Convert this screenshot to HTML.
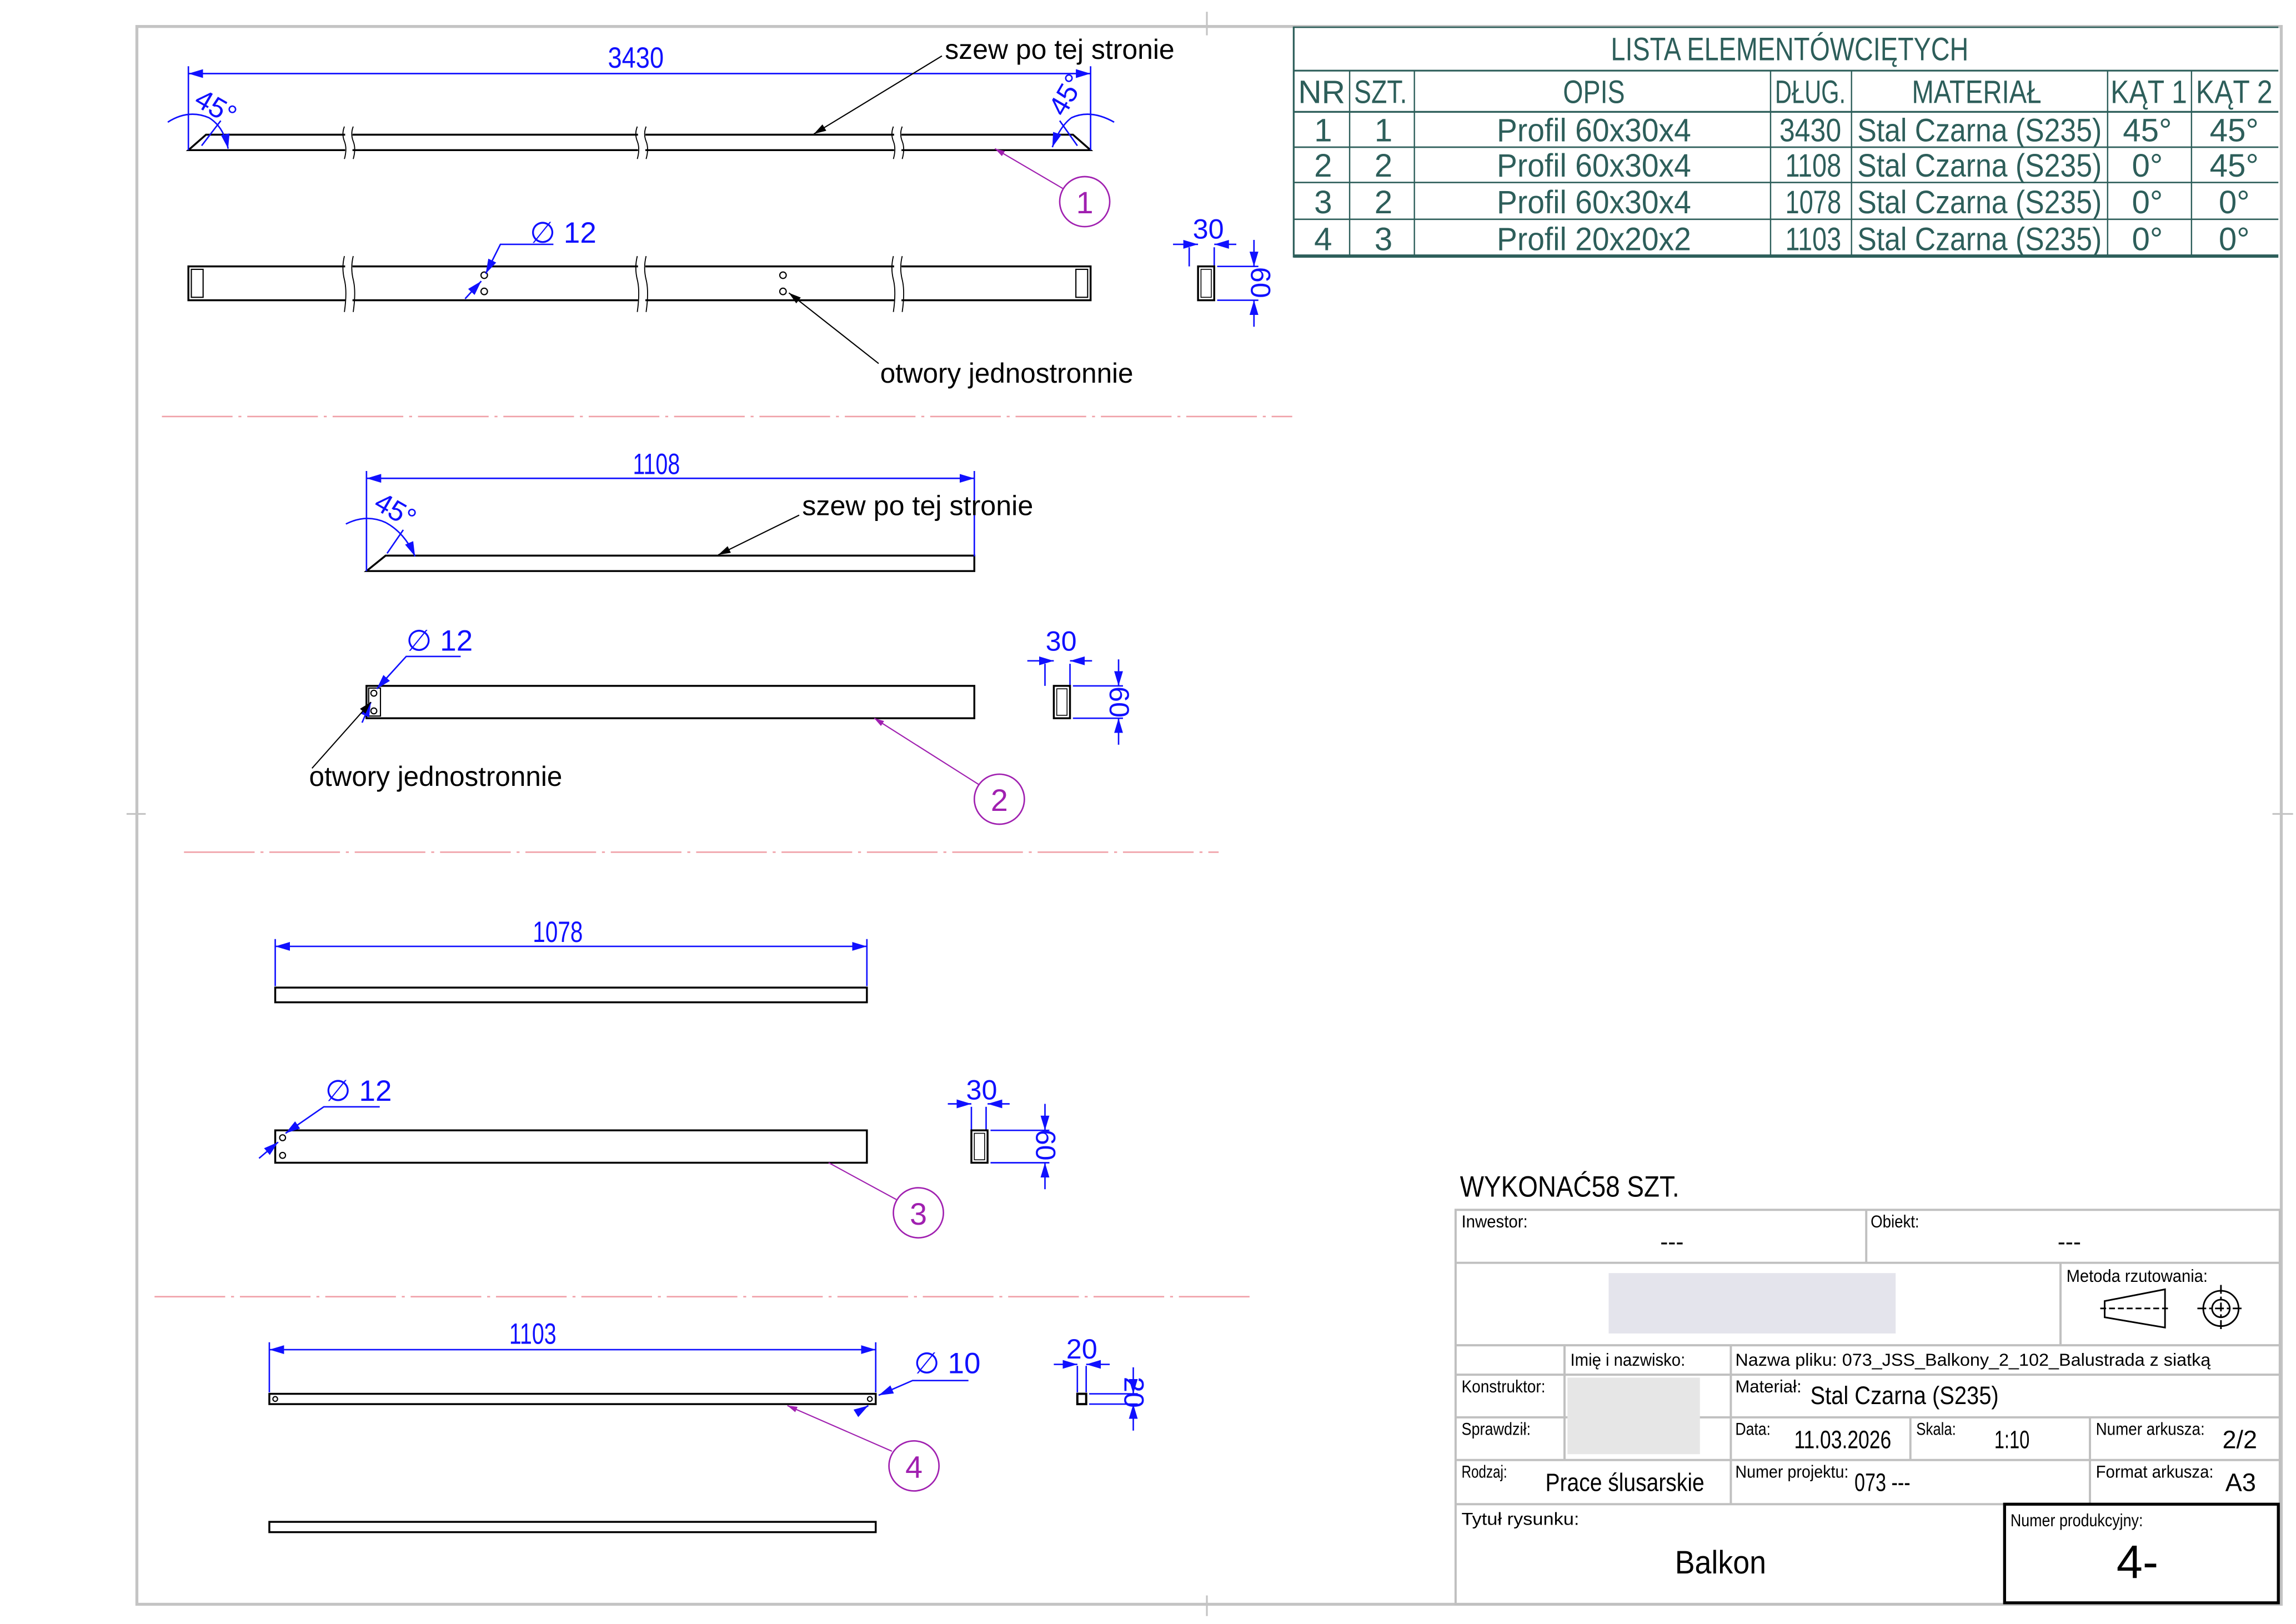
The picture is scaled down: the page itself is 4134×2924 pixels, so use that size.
<!DOCTYPE html>
<html><head><meta charset="utf-8"><style>
html,body{margin:0;padding:0;background:#fff;width:4134px;height:2924px;overflow:hidden}
svg{display:block}
text{font-family:"Liberation Sans",sans-serif}
</style></head><body>
<svg width="4134" height="2924" viewBox="0 0 1560 1103.4" preserveAspectRatio="none" xmlns="http://www.w3.org/2000/svg">
<defs>
<marker id="ab" viewBox="0 0 10 6" refX="10" refY="3" markerWidth="10" markerHeight="6" markerUnits="userSpaceOnUse" orient="auto-start-reverse"><path d="M0,0 L10,3 L0,6z" fill="#1010ff"/></marker>
<marker id="ak" viewBox="0 0 10 6" refX="10" refY="3" markerWidth="10" markerHeight="5" markerUnits="userSpaceOnUse" orient="auto"><path d="M0,0 L10,3 L0,6z" fill="#000"/></marker>
<marker id="ap" viewBox="0 0 10 6" refX="10" refY="3" markerWidth="9" markerHeight="4" markerUnits="userSpaceOnUse" orient="auto"><path d="M0,0 L10,3 L0,6z" fill="#a020b0"/></marker>
</defs>
<rect width="1560" height="1104" fill="#fff"/>
<!-- frame -->
<rect x="93" y="18" width="1457" height="1072" fill="none" stroke="#c4c4c4" stroke-width="2"/>
<g stroke="#c4c4c4" stroke-width="1.2">
<line x1="820" y1="8" x2="820" y2="24"/><line x1="820" y1="1084" x2="820" y2="1098"/>
<line x1="86" y1="553" x2="99" y2="553"/><line x1="1544" y1="553" x2="1558" y2="553"/>
</g>

<!-- separators -->
<g stroke="#f0a0a8" stroke-width="1" stroke-dasharray="48,4,2,4">
<line x1="110" y1="283" x2="878" y2="283"/>
<line x1="125" y1="579" x2="828" y2="579"/>
<line x1="105" y1="881" x2="849" y2="881"/>
</g>

<!-- PART 1 top -->
<g stroke="#000" stroke-width="1.3" fill="none">
<path d="M140,91.5 L729,91.5 L741,102 L128,102 Z"/>
</g>
<g stroke="#fff" stroke-width="5">
<line x1="237" y1="86" x2="237" y2="108"/><line x1="436" y1="86" x2="436" y2="108"/><line x1="610" y1="86" x2="610" y2="108"/>
</g>
<g stroke="#000" stroke-width="0.7" fill="none">
<path d="M234,86 q-2,5 0,10 q2,5 0,12"/><path d="M240,86 q-2,5 0,10 q2,5 0,12"/>
<path d="M433,86 q-2,5 0,10 q2,5 0,12"/><path d="M439,86 q-2,5 0,10 q2,5 0,12"/>
<path d="M607,86 q-2,5 0,10 q2,5 0,12"/><path d="M613,86 q-2,5 0,10 q2,5 0,12"/>
</g>
<g stroke="#1010ff" stroke-width="1" fill="none">
<line x1="128" y1="45" x2="128" y2="102"/><line x1="741" y1="45" x2="741" y2="102"/>
<line x1="128" y1="50" x2="741" y2="50" marker-start="url(#ab)" marker-end="url(#ab)"/>
<path d="M114,83 Q128,74 142,80 Q152,86 155,101" marker-end="url(#ab)"/>
<path d="M757,83 Q741,74 728,80 Q720,86 715,100" marker-end="url(#ab)"/>
<line x1="137" y1="99" x2="150" y2="82"/><line x1="732" y1="99" x2="720" y2="82"/>
</g>
<text x="432" y="46" font-size="20" fill="#1010ff" text-anchor="middle" textLength="38" lengthAdjust="spacingAndGlyphs">3430</text>
<text x="131" y="71" font-size="19" fill="#1010ff" transform="rotate(30 131 71)">45°</text>
<text x="723" y="80" font-size="19" fill="#1010ff" transform="rotate(-60 723 80)">45°</text>
<text x="642" y="40" font-size="19" fill="#000" textLength="156" lengthAdjust="spacingAndGlyphs">szew po tej  stronie</text>
<line x1="640" y1="38" x2="553" y2="91" stroke="#000" stroke-width="0.8" marker-end="url(#ak)"/>
<circle cx="737" cy="137" r="17" fill="none" stroke="#a020b0" stroke-width="1"/>
<text x="737" y="145" font-size="21" fill="#a020b0" text-anchor="middle">1</text>
<line x1="722" y1="128" x2="676" y2="101" stroke="#a020b0" stroke-width="0.8" marker-end="url(#ap)"/>

<!-- PART 1 front -->
<g stroke="#000" stroke-width="1.3" fill="none">
<rect x="128" y="181" width="613" height="23"/>
</g>
<g stroke="#000" stroke-width="0.8" fill="none">
<rect x="130" y="183" width="8" height="19"/><rect x="731" y="183" width="8" height="19"/>
<circle cx="329" cy="187" r="2.2"/><circle cx="329" cy="198" r="2.2"/>
<circle cx="532" cy="187" r="2.2"/><circle cx="532" cy="198" r="2.2"/>
</g>
<g stroke="#fff" stroke-width="5">
<line x1="237" y1="176" x2="237" y2="210"/><line x1="436" y1="176" x2="436" y2="210"/><line x1="610" y1="176" x2="610" y2="210"/>
</g>
<g stroke="#000" stroke-width="0.7" fill="none">
<path d="M234,174 q-2,8 0,16 q2,8 0,22"/><path d="M240,174 q-2,8 0,16 q2,8 0,22"/>
<path d="M433,174 q-2,8 0,16 q2,8 0,22"/><path d="M439,174 q-2,8 0,16 q2,8 0,22"/>
<path d="M607,174 q-2,8 0,16 q2,8 0,22"/><path d="M613,174 q-2,8 0,16 q2,8 0,22"/>
</g>
<g stroke="#1010ff" stroke-width="1" fill="none">
<polyline points="376,166 340,166 330,186" marker-end="url(#ab)"/>
<line x1="316" y1="203" x2="327" y2="191" marker-end="url(#ab)"/>
<line x1="808" y1="168" x2="808" y2="181"/><line x1="825" y1="168" x2="825" y2="181"/>
<line x1="797" y1="166" x2="814" y2="166" marker-end="url(#ab)"/><line x1="840" y1="166" x2="825" y2="166" marker-end="url(#ab)"/>
<line x1="827" y1="181" x2="855" y2="181"/><line x1="827" y1="204" x2="855" y2="204"/>
<line x1="852" y1="163" x2="852" y2="181" marker-end="url(#ab)"/><line x1="852" y1="222" x2="852" y2="204" marker-end="url(#ab)"/>
</g>
<rect x="814" y="181" width="11" height="23" fill="none" stroke="#000" stroke-width="1.3"/>
<rect x="816" y="183" width="7" height="19" fill="none" stroke="#000" stroke-width="0.6"/>
<text x="360" y="165" font-size="20" fill="#1010ff">∅ 12</text>
<text x="821" y="162" font-size="19" fill="#1010ff" text-anchor="middle">30</text>
<text x="850" y="192" font-size="19" fill="#1010ff" text-anchor="middle" transform="rotate(90 850 192)">60</text>
<text x="598" y="260" font-size="19" fill="#000" textLength="172" lengthAdjust="spacingAndGlyphs">otwory  jednostronnie</text>
<line x1="597" y1="247" x2="536" y2="199" stroke="#000" stroke-width="0.8" marker-end="url(#ak)"/>

<!-- PART 2 -->
<path d="M262,377.5 L662,377.5 L662,388 L249,388 Z" fill="none" stroke="#000" stroke-width="1.3"/>
<g stroke="#1010ff" stroke-width="1" fill="none">
<line x1="249" y1="320" x2="249" y2="388"/><line x1="662" y1="320" x2="662" y2="378"/>
<line x1="249" y1="325" x2="662" y2="325" marker-start="url(#ab)" marker-end="url(#ab)"/>
<path d="M235,356 Q249,349 262,355 Q275,362 282,378" marker-end="url(#ab)"/>
<line x1="263" y1="376" x2="274" y2="360"/>
</g>
<text x="446" y="322" font-size="20" fill="#1010ff" text-anchor="middle" textLength="32" lengthAdjust="spacingAndGlyphs">1108</text>
<text x="253" y="345" font-size="19" fill="#1010ff" transform="rotate(30 253 345)">45°</text>
<text x="545" y="350" font-size="19" fill="#000" textLength="157" lengthAdjust="spacingAndGlyphs">szew po tej  stronie</text>
<line x1="543" y1="350" x2="488" y2="377" stroke="#000" stroke-width="0.8" marker-end="url(#ak)"/>

<rect x="249" y="466" width="413" height="22" fill="none" stroke="#000" stroke-width="1.3"/>
<g stroke="#000" stroke-width="0.8" fill="none">
<rect x="250.5" y="467.5" width="8" height="19"/>
<circle cx="254" cy="471" r="2"/><circle cx="254" cy="483" r="2"/>
</g>
<g stroke="#1010ff" stroke-width="1" fill="none">
<polyline points="313,446 276,446 256,468" marker-end="url(#ab)"/>
<line x1="246" y1="491" x2="252" y2="477" marker-end="url(#ab)"/>
<line x1="710" y1="451" x2="710" y2="466"/><line x1="727" y1="451" x2="727" y2="466"/>
<line x1="698" y1="449" x2="716" y2="449" marker-end="url(#ab)"/><line x1="742" y1="449" x2="727" y2="449" marker-end="url(#ab)"/>
<line x1="729" y1="466" x2="763" y2="466"/><line x1="729" y1="488" x2="763" y2="488"/>
<line x1="760" y1="448" x2="760" y2="466" marker-end="url(#ab)"/><line x1="760" y1="506" x2="760" y2="488" marker-end="url(#ab)"/>
</g>
<rect x="716" y="466" width="11" height="22" fill="none" stroke="#000" stroke-width="1.3"/>
<rect x="718" y="468" width="7" height="18" fill="none" stroke="#000" stroke-width="0.6"/>
<text x="276" y="442" font-size="20" fill="#1010ff">∅ 12</text>
<text x="721" y="442" font-size="19" fill="#1010ff" text-anchor="middle">30</text>
<text x="754" y="477" font-size="19" fill="#1010ff" text-anchor="middle" transform="rotate(90 754 477)">60</text>
<text x="210" y="534" font-size="19" fill="#000" textLength="172" lengthAdjust="spacingAndGlyphs">otwory  jednostronnie</text>
<line x1="212" y1="522" x2="252" y2="477" stroke="#000" stroke-width="0.8" marker-end="url(#ak)"/>
<circle cx="679" cy="543" r="17" fill="none" stroke="#a020b0" stroke-width="1"/>
<text x="679" y="551" font-size="21" fill="#a020b0" text-anchor="middle">2</text>
<line x1="665" y1="533" x2="594" y2="488" stroke="#a020b0" stroke-width="0.8" marker-end="url(#ap)"/>

<!-- PART 3 -->
<g stroke="#1010ff" stroke-width="1" fill="none">
<line x1="187" y1="638" x2="187" y2="670"/><line x1="589" y1="638" x2="589" y2="670"/>
<line x1="187" y1="643" x2="589" y2="643" marker-start="url(#ab)" marker-end="url(#ab)"/>
</g>
<text x="379" y="640" font-size="20" fill="#1010ff" text-anchor="middle" textLength="34" lengthAdjust="spacingAndGlyphs">1078</text>
<rect x="187" y="671" width="402" height="10" fill="none" stroke="#000" stroke-width="1.3"/>
<rect x="187" y="768" width="402" height="22" fill="none" stroke="#000" stroke-width="1.3"/>
<g stroke="#000" stroke-width="0.8" fill="none"><circle cx="192" cy="773" r="2"/><circle cx="192" cy="785" r="2"/></g>
<g stroke="#1010ff" stroke-width="1" fill="none">
<polyline points="258,752 220,752 194,770" marker-end="url(#ab)"/>
<line x1="176" y1="787" x2="189" y2="776" marker-end="url(#ab)"/>
<line x1="660" y1="752" x2="660" y2="768"/><line x1="670" y1="752" x2="670" y2="768"/>
<line x1="644" y1="750" x2="660" y2="750" marker-end="url(#ab)"/><line x1="686" y1="750" x2="671" y2="750" marker-end="url(#ab)"/>
<line x1="673" y1="768" x2="713" y2="768"/><line x1="673" y1="790" x2="713" y2="790"/>
<line x1="710" y1="750" x2="710" y2="768" marker-end="url(#ab)"/><line x1="710" y1="808" x2="710" y2="790" marker-end="url(#ab)"/>
</g>
<rect x="660" y="768" width="11" height="22" fill="none" stroke="#000" stroke-width="1.3"/>
<rect x="662" y="770" width="7" height="18" fill="none" stroke="#000" stroke-width="0.6"/>
<text x="221" y="748" font-size="20" fill="#1010ff">∅ 12</text>
<text x="667" y="747" font-size="19" fill="#1010ff" text-anchor="middle">30</text>
<text x="704" y="778" font-size="19" fill="#1010ff" text-anchor="middle" transform="rotate(90 704 778)">60</text>
<circle cx="624" cy="824" r="17" fill="none" stroke="#a020b0" stroke-width="1"/>
<text x="624" y="832" font-size="21" fill="#a020b0" text-anchor="middle">3</text>
<line x1="609" y1="815" x2="563" y2="790" stroke="#a020b0" stroke-width="0.8"/>

<!-- PART 4 -->
<g stroke="#1010ff" stroke-width="1" fill="none">
<line x1="183" y1="912" x2="183" y2="946"/><line x1="595" y1="912" x2="595" y2="946"/>
<line x1="183" y1="917" x2="595" y2="917" marker-start="url(#ab)" marker-end="url(#ab)"/>
<polyline points="658,938 620,938 597,948" marker-end="url(#ab)"/>
<line x1="582" y1="960" x2="590" y2="955" marker-end="url(#ab)"/>
<line x1="732" y1="928" x2="732" y2="946"/><line x1="738" y1="928" x2="738" y2="946"/>
<line x1="716" y1="927" x2="732" y2="927" marker-end="url(#ab)"/><line x1="754" y1="927" x2="738" y2="927" marker-end="url(#ab)"/>
<line x1="740" y1="947" x2="773" y2="947"/><line x1="740" y1="954" x2="773" y2="954"/>
<line x1="770" y1="929" x2="770" y2="947" marker-end="url(#ab)"/><line x1="770" y1="972" x2="770" y2="954" marker-end="url(#ab)"/>
</g>
<text x="362" y="913" font-size="20" fill="#1010ff" text-anchor="middle" textLength="32" lengthAdjust="spacingAndGlyphs">1103</text>
<text x="621" y="933" font-size="20" fill="#1010ff">∅ 10</text>
<text x="735" y="923" font-size="19" fill="#1010ff" text-anchor="middle">20</text>
<text x="764" y="946" font-size="19" fill="#1010ff" text-anchor="middle" transform="rotate(90 764 946)">20</text>
<rect x="183" y="947" width="412" height="7" fill="none" stroke="#000" stroke-width="1.3"/>
<g stroke="#000" stroke-width="0.8" fill="none"><circle cx="187" cy="950.5" r="1.6"/><circle cx="591" cy="950.5" r="1.6"/></g>
<rect x="732" y="947" width="6" height="7" fill="none" stroke="#000" stroke-width="1.5"/>
<circle cx="621" cy="996" r="17" fill="none" stroke="#a020b0" stroke-width="1"/>
<text x="621" y="1004" font-size="21" fill="#a020b0" text-anchor="middle">4</text>
<line x1="606" y1="986" x2="535" y2="955" stroke="#a020b0" stroke-width="0.8" marker-end="url(#ap)"/>
<rect x="183" y="1034" width="412" height="7" fill="none" stroke="#000" stroke-width="1.3"/>

<!-- PARTS LIST TABLE -->
<g stroke="#2d5e5a" fill="none">
<line x1="879" y1="18.5" x2="1548" y2="18.5" stroke-width="1"/>
<line x1="879" y1="18" x2="879" y2="175" stroke-width="1.2"/>
<line x1="879" y1="48" x2="1548" y2="48" stroke-width="1.2"/>
<line x1="879" y1="76" x2="1548" y2="76" stroke-width="1.2"/>
<line x1="879" y1="100" x2="1548" y2="100" stroke-width="1"/>
<line x1="879" y1="124" x2="1548" y2="124" stroke-width="1"/>
<line x1="879" y1="149" x2="1548" y2="149" stroke-width="1"/>
<line x1="879" y1="174" x2="1548" y2="174" stroke-width="2.2"/>
<g stroke-width="0.9">
<line x1="917" y1="48" x2="917" y2="174"/><line x1="961" y1="48" x2="961" y2="174"/>
<line x1="1203" y1="48" x2="1203" y2="174"/><line x1="1258" y1="48" x2="1258" y2="174"/>
<line x1="1432" y1="48" x2="1432" y2="174"/><line x1="1489" y1="48" x2="1489" y2="174"/>
</g>
</g>
<g fill="#2d5e5a" font-size="22" text-anchor="middle">
<text x="1216" y="41" textLength="243" lengthAdjust="spacingAndGlyphs">LISTA  ELEMENTÓWCIĘTYCH</text>
<text x="898" y="70" textLength="32" lengthAdjust="spacingAndGlyphs">NR</text>
<text x="938" y="70" textLength="36" lengthAdjust="spacingAndGlyphs">SZT.</text>
<text x="1083" y="70" textLength="42" lengthAdjust="spacingAndGlyphs">OPIS</text>
<text x="1230" y="70" textLength="48" lengthAdjust="spacingAndGlyphs">DŁUG.</text>
<text x="1343" y="70" textLength="88" lengthAdjust="spacingAndGlyphs">MATERIAŁ</text>
<text x="1460" y="70" textLength="52" lengthAdjust="spacingAndGlyphs">KĄT 1</text>
<text x="1518" y="70" textLength="52" lengthAdjust="spacingAndGlyphs">KĄT 2</text>
<text x="899" y="96">1</text><text x="940" y="96">1</text>
<text x="1083" y="96" textLength="132" lengthAdjust="spacingAndGlyphs">Profil  60x30x4</text>
<text x="1230" y="96" textLength="42" lengthAdjust="spacingAndGlyphs">3430</text>
<text x="1345" y="96" textLength="166" lengthAdjust="spacingAndGlyphs">Stal  Czarna (S235)</text>
<text x="1459" y="96">45°</text><text x="1518" y="96">45°</text>
<text x="899" y="120">2</text><text x="940" y="120">2</text>
<text x="1083" y="120" textLength="132" lengthAdjust="spacingAndGlyphs">Profil  60x30x4</text>
<text x="1232" y="120" textLength="38" lengthAdjust="spacingAndGlyphs">1108</text>
<text x="1345" y="120" textLength="166" lengthAdjust="spacingAndGlyphs">Stal  Czarna (S235)</text>
<text x="1459" y="120">0°</text><text x="1518" y="120">45°</text>
<text x="899" y="145">3</text><text x="940" y="145">2</text>
<text x="1083" y="145" textLength="132" lengthAdjust="spacingAndGlyphs">Profil  60x30x4</text>
<text x="1232" y="145" textLength="38" lengthAdjust="spacingAndGlyphs">1078</text>
<text x="1345" y="145" textLength="166" lengthAdjust="spacingAndGlyphs">Stal  Czarna (S235)</text>
<text x="1459" y="145">0°</text><text x="1518" y="145">0°</text>
<text x="899" y="170">4</text><text x="940" y="170">3</text>
<text x="1083" y="170" textLength="132" lengthAdjust="spacingAndGlyphs">Profil  20x20x2</text>
<text x="1232" y="170" textLength="38" lengthAdjust="spacingAndGlyphs">1103</text>
<text x="1345" y="170" textLength="166" lengthAdjust="spacingAndGlyphs">Stal  Czarna (S235)</text>
<text x="1459" y="170">0°</text><text x="1518" y="170">0°</text>
</g>

<!-- TITLE BLOCK -->
<text x="992" y="813" font-size="20" fill="#000" textLength="149" lengthAdjust="spacingAndGlyphs">WYKONAĆ58  SZT.</text>
<g stroke="#c0c0c0" stroke-width="1.5" fill="none">
<rect x="989" y="822" width="560" height="268"/>
<line x1="989" y1="858" x2="1549" y2="858"/>
<line x1="1268" y1="822" x2="1268" y2="858"/>
<line x1="989" y1="914" x2="1549" y2="914"/>
<line x1="1400" y1="858" x2="1400" y2="914"/>
<line x1="989" y1="934" x2="1549" y2="934"/>
<line x1="989" y1="963" x2="1549" y2="963"/>
<line x1="989" y1="992" x2="1549" y2="992"/>
<line x1="989" y1="1022" x2="1549" y2="1022"/>
<line x1="1063" y1="914" x2="1063" y2="992"/>
<line x1="1176" y1="914" x2="1176" y2="1022"/>
<line x1="1298" y1="963" x2="1298" y2="992"/>
<line x1="1420" y1="963" x2="1420" y2="1022"/>
</g>
<rect x="1093" y="865" width="195" height="41" fill="#e4e4ec"/>
<rect x="1065" y="936" width="90" height="52" fill="#e6e6e6"/>
<rect x="1362" y="1022" width="186" height="67" fill="none" stroke="#000" stroke-width="2"/>
<g fill="#000" font-size="12">
<text x="993" y="834" textLength="45" lengthAdjust="spacingAndGlyphs">Inwestor:</text>
<text x="1128" y="849" font-size="16">---</text>
<text x="1271" y="834" textLength="33" lengthAdjust="spacingAndGlyphs">Obiekt:</text>
<text x="1398" y="849" font-size="16">---</text>
<text x="1404" y="871" textLength="96" lengthAdjust="spacingAndGlyphs">Metoda rzutowania:</text>
<text x="1067" y="928" textLength="78" lengthAdjust="spacingAndGlyphs">Imię i  nazwisko:</text>
<text x="1179" y="928" textLength="323" lengthAdjust="spacingAndGlyphs">Nazwa pliku:  073_JSS_Balkony_2_102_Balustrada z  siatką</text>
<text x="993" y="946" textLength="57" lengthAdjust="spacingAndGlyphs">Konstruktor:</text>
<text x="1179" y="946" textLength="45" lengthAdjust="spacingAndGlyphs">Materiał:</text>
<text x="1230" y="954" font-size="17" textLength="128" lengthAdjust="spacingAndGlyphs">Stal  Czarna (S235)</text>
<text x="993" y="975" textLength="47" lengthAdjust="spacingAndGlyphs">Sprawdził:</text>
<text x="1179" y="975" textLength="24" lengthAdjust="spacingAndGlyphs">Data:</text>
<text x="1219" y="984" font-size="17" textLength="66" lengthAdjust="spacingAndGlyphs">11.03.2026</text>
<text x="1302" y="975" textLength="27" lengthAdjust="spacingAndGlyphs">Skala:</text>
<text x="1355" y="984" font-size="17" textLength="24" lengthAdjust="spacingAndGlyphs">1:10</text>
<text x="1424" y="975" textLength="74" lengthAdjust="spacingAndGlyphs">Numer arkusza:</text>
<text x="1510" y="984" font-size="17">2/2</text>
<text x="993" y="1004" textLength="31" lengthAdjust="spacingAndGlyphs">Rodzaj:</text>
<text x="1050" y="1013" font-size="17" textLength="108" lengthAdjust="spacingAndGlyphs">Prace ślusarskie</text>
<text x="1179" y="1004" textLength="77" lengthAdjust="spacingAndGlyphs">Numer projektu:</text>
<text x="1260" y="1013" font-size="17" textLength="38" lengthAdjust="spacingAndGlyphs">073 ---</text>
<text x="1424" y="1004" textLength="80" lengthAdjust="spacingAndGlyphs">Format arkusza:</text>
<text x="1512" y="1013" font-size="17">A3</text>
<text x="993" y="1036" textLength="80" lengthAdjust="spacingAndGlyphs">Tytuł  rysunku:</text>
<text x="1366" y="1037" textLength="90" lengthAdjust="spacingAndGlyphs">Numer produkcyjny:</text>
<text x="1138" y="1069" font-size="22" textLength="62" lengthAdjust="spacingAndGlyphs">Balkon</text>
<text x="1438" y="1072" font-size="32">4-</text>
</g>
<!-- projection symbol -->
<g stroke="#000" stroke-width="1.1" fill="none">
<path d="M1430,884 L1471,876 L1471,902 L1430,895 Z"/>
<line x1="1427" y1="889" x2="1474" y2="889" stroke-dasharray="4,2"/>
<circle cx="1509" cy="889" r="12"/><circle cx="1509" cy="889" r="6"/>
<line x1="1493" y1="889" x2="1525" y2="889" stroke-dasharray="6,2,2,2"/>
<line x1="1509" y1="873" x2="1509" y2="905" stroke-dasharray="6,2,2,2"/>
</g>
</svg>
</body></html>
